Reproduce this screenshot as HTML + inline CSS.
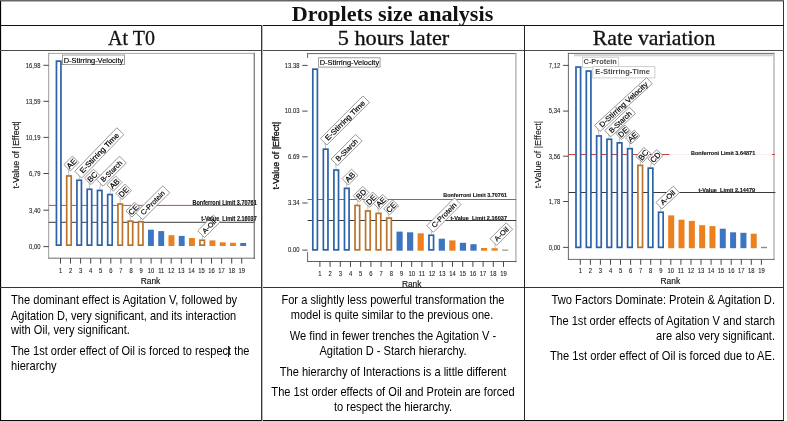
<!DOCTYPE html>
<html lang="en"><head><meta charset="utf-8"><title>Droplets size analysis</title>
<style>
html,body{margin:0;padding:0;background:#fff;}
body{width:787px;height:421px;position:relative;overflow:hidden;font-family:"Liberation Sans",sans-serif;}
.b{position:absolute;background:#111;}
.chart{position:absolute;overflow:hidden;}
.h{position:absolute;-webkit-text-stroke:0.3px #111;font-family:"Liberation Serif",serif;font-size:20.4px;line-height:24px;height:24px;text-align:center;color:#111;white-space:nowrap;}
.ln{position:absolute;font-size:13.33px;line-height:15px;height:15px;white-space:nowrap;color:#000;}
</style></head><body>

<div class="b" style="left:0;top:0;width:784px;height:1px;background:#666"></div>
<div class="b" style="left:1px;top:1px;width:783px;height:1px;background:#b4b4b4"></div>
<div class="b" style="left:0;top:1px;width:1px;height:420px;background:#000"></div>
<div class="b" style="left:1px;top:2px;width:1px;height:419px;background:#e4e4e4"></div>
<div class="b" style="left:783px;top:1px;width:1px;height:420px;background:#333"></div>
<div class="b" style="left:0;top:420px;width:784px;height:1px;background:#0a0a0a"></div>
<div class="b" style="left:0;top:24.7px;width:784px;height:1.2px"></div>
<div class="b" style="left:0;top:50px;width:784px;height:1px;background:#4a4a4a"></div>
<div class="b" style="left:0;top:286.6px;width:784px;height:1px;background:#333"></div>
<div class="b" style="left:261px;top:25px;width:1px;height:396px;background:#383838"></div>
<div class="b" style="left:262px;top:25px;width:1px;height:396px;background:#b8b8b8"></div>
<div class="b" style="left:523.9px;top:25px;width:1.1px;height:396px;background:#222"></div>
<div class="h" style="left:0;width:785px;top:2.2px;font-weight:bold;-webkit-text-stroke:0;transform:scaleX(1.087)">Droplets size analysis</div>
<div class="h" style="left:2px;width:259px;top:26.2px;transform:scaleX(0.98)">At T0</div>
<div class="h" style="left:263px;width:261px;top:26.2px;transform:scaleX(1.095)">5 hours later</div>
<div class="h" style="left:525px;width:258px;top:26.2px;transform:scaleX(1.066)">Rate variation</div>
<svg class="chart" style="left:2px;top:51px" width="259" height="236" viewBox="2 51 259 236" font-family="'Liberation Sans', sans-serif">
<line x1="48.7" y1="53.4" x2="254.3" y2="53.4" stroke="#9a9a9a" stroke-width="0.9" stroke-linecap="square"/>
<line x1="254.3" y1="53.4" x2="254.3" y2="258.2" stroke="#858585" stroke-width="1.4" stroke-linecap="square"/>
<line x1="48.7" y1="258.2" x2="254.3" y2="258.2" stroke="#5a5a5a" stroke-width="0.9" stroke-linecap="square"/>
<line x1="48.7" y1="53.4" x2="48.7" y2="258.2" stroke="#8e8e8e" stroke-width="0.9" stroke-linecap="square"/>
<line x1="43.4" y1="65.3" x2="48.7" y2="65.3" stroke="#333" stroke-width="0.9"/>
<text x="40.5" y="67.6" font-size="6.8" text-anchor="end" fill="#1c1c1c" stroke="#1c1c1c" stroke-width="0.1" textLength="14.63" lengthAdjust="spacingAndGlyphs">16,98</text>
<line x1="43.4" y1="101.3" x2="48.7" y2="101.3" stroke="#333" stroke-width="0.9"/>
<text x="40.5" y="103.6" font-size="6.8" text-anchor="end" fill="#1c1c1c" stroke="#1c1c1c" stroke-width="0.1" textLength="14.63" lengthAdjust="spacingAndGlyphs">13,59</text>
<line x1="43.4" y1="137.4" x2="48.7" y2="137.4" stroke="#333" stroke-width="0.9"/>
<text x="40.5" y="139.7" font-size="6.8" text-anchor="end" fill="#1c1c1c" stroke="#1c1c1c" stroke-width="0.1" textLength="14.63" lengthAdjust="spacingAndGlyphs">10,19</text>
<line x1="43.4" y1="173.5" x2="48.7" y2="173.5" stroke="#333" stroke-width="0.9"/>
<text x="40.5" y="175.8" font-size="6.8" text-anchor="end" fill="#1c1c1c" stroke="#1c1c1c" stroke-width="0.1" textLength="11.38" lengthAdjust="spacingAndGlyphs">6,79</text>
<line x1="43.4" y1="210.2" x2="48.7" y2="210.2" stroke="#333" stroke-width="0.9"/>
<text x="40.5" y="212.5" font-size="6.8" text-anchor="end" fill="#1c1c1c" stroke="#1c1c1c" stroke-width="0.1" textLength="11.38" lengthAdjust="spacingAndGlyphs">3,40</text>
<line x1="43.4" y1="246.6" x2="48.7" y2="246.6" stroke="#333" stroke-width="0.9"/>
<text x="40.5" y="248.9" font-size="6.8" text-anchor="end" fill="#1c1c1c" stroke="#1c1c1c" stroke-width="0.1" textLength="11.38" lengthAdjust="spacingAndGlyphs">0,00</text>
<line x1="60.5" y1="258.2" x2="60.5" y2="263.6" stroke="#333" stroke-width="0.9"/>
<text x="60.5" y="272.5" font-size="6.8" text-anchor="middle" fill="#1c1c1c" stroke="#1c1c1c" stroke-width="0.1" textLength="3.25" lengthAdjust="spacingAndGlyphs">1</text>
<line x1="70.5" y1="258.2" x2="70.5" y2="263.6" stroke="#333" stroke-width="0.9"/>
<text x="70.5" y="272.5" font-size="6.8" text-anchor="middle" fill="#1c1c1c" stroke="#1c1c1c" stroke-width="0.1" textLength="3.25" lengthAdjust="spacingAndGlyphs">2</text>
<line x1="80.6" y1="258.2" x2="80.6" y2="263.6" stroke="#333" stroke-width="0.9"/>
<text x="80.6" y="272.5" font-size="6.8" text-anchor="middle" fill="#1c1c1c" stroke="#1c1c1c" stroke-width="0.1" textLength="3.25" lengthAdjust="spacingAndGlyphs">3</text>
<line x1="90.7" y1="258.2" x2="90.7" y2="263.6" stroke="#333" stroke-width="0.9"/>
<text x="90.7" y="272.5" font-size="6.8" text-anchor="middle" fill="#1c1c1c" stroke="#1c1c1c" stroke-width="0.1" textLength="3.25" lengthAdjust="spacingAndGlyphs">4</text>
<line x1="100.7" y1="258.2" x2="100.7" y2="263.6" stroke="#333" stroke-width="0.9"/>
<text x="100.7" y="272.5" font-size="6.8" text-anchor="middle" fill="#1c1c1c" stroke="#1c1c1c" stroke-width="0.1" textLength="3.25" lengthAdjust="spacingAndGlyphs">5</text>
<line x1="110.8" y1="258.2" x2="110.8" y2="263.6" stroke="#333" stroke-width="0.9"/>
<text x="110.8" y="272.5" font-size="6.8" text-anchor="middle" fill="#1c1c1c" stroke="#1c1c1c" stroke-width="0.1" textLength="3.25" lengthAdjust="spacingAndGlyphs">6</text>
<line x1="120.9" y1="258.2" x2="120.9" y2="263.6" stroke="#333" stroke-width="0.9"/>
<text x="120.9" y="272.5" font-size="6.8" text-anchor="middle" fill="#1c1c1c" stroke="#1c1c1c" stroke-width="0.1" textLength="3.25" lengthAdjust="spacingAndGlyphs">7</text>
<line x1="131.0" y1="258.2" x2="131.0" y2="263.6" stroke="#333" stroke-width="0.9"/>
<text x="131.0" y="272.5" font-size="6.8" text-anchor="middle" fill="#1c1c1c" stroke="#1c1c1c" stroke-width="0.1" textLength="3.25" lengthAdjust="spacingAndGlyphs">8</text>
<line x1="141.0" y1="258.2" x2="141.0" y2="263.6" stroke="#333" stroke-width="0.9"/>
<text x="141.0" y="272.5" font-size="6.8" text-anchor="middle" fill="#1c1c1c" stroke="#1c1c1c" stroke-width="0.1" textLength="3.25" lengthAdjust="spacingAndGlyphs">9</text>
<line x1="151.1" y1="258.2" x2="151.1" y2="263.6" stroke="#333" stroke-width="0.9"/>
<text x="151.1" y="272.5" font-size="6.8" text-anchor="middle" fill="#1c1c1c" stroke="#1c1c1c" stroke-width="0.1" textLength="6.50" lengthAdjust="spacingAndGlyphs">10</text>
<line x1="161.2" y1="258.2" x2="161.2" y2="263.6" stroke="#333" stroke-width="0.9"/>
<text x="161.2" y="272.5" font-size="6.8" text-anchor="middle" fill="#1c1c1c" stroke="#1c1c1c" stroke-width="0.1" textLength="6.07" lengthAdjust="spacingAndGlyphs">11</text>
<line x1="171.2" y1="258.2" x2="171.2" y2="263.6" stroke="#333" stroke-width="0.9"/>
<text x="171.2" y="272.5" font-size="6.8" text-anchor="middle" fill="#1c1c1c" stroke="#1c1c1c" stroke-width="0.1" textLength="6.50" lengthAdjust="spacingAndGlyphs">12</text>
<line x1="181.3" y1="258.2" x2="181.3" y2="263.6" stroke="#333" stroke-width="0.9"/>
<text x="181.3" y="272.5" font-size="6.8" text-anchor="middle" fill="#1c1c1c" stroke="#1c1c1c" stroke-width="0.1" textLength="6.50" lengthAdjust="spacingAndGlyphs">13</text>
<line x1="191.4" y1="258.2" x2="191.4" y2="263.6" stroke="#333" stroke-width="0.9"/>
<text x="191.4" y="272.5" font-size="6.8" text-anchor="middle" fill="#1c1c1c" stroke="#1c1c1c" stroke-width="0.1" textLength="6.50" lengthAdjust="spacingAndGlyphs">14</text>
<line x1="201.4" y1="258.2" x2="201.4" y2="263.6" stroke="#333" stroke-width="0.9"/>
<text x="201.4" y="272.5" font-size="6.8" text-anchor="middle" fill="#1c1c1c" stroke="#1c1c1c" stroke-width="0.1" textLength="6.50" lengthAdjust="spacingAndGlyphs">15</text>
<line x1="211.5" y1="258.2" x2="211.5" y2="263.6" stroke="#333" stroke-width="0.9"/>
<text x="211.5" y="272.5" font-size="6.8" text-anchor="middle" fill="#1c1c1c" stroke="#1c1c1c" stroke-width="0.1" textLength="6.50" lengthAdjust="spacingAndGlyphs">16</text>
<line x1="221.6" y1="258.2" x2="221.6" y2="263.6" stroke="#333" stroke-width="0.9"/>
<text x="221.6" y="272.5" font-size="6.8" text-anchor="middle" fill="#1c1c1c" stroke="#1c1c1c" stroke-width="0.1" textLength="6.50" lengthAdjust="spacingAndGlyphs">17</text>
<line x1="231.7" y1="258.2" x2="231.7" y2="263.6" stroke="#333" stroke-width="0.9"/>
<text x="231.7" y="272.5" font-size="6.8" text-anchor="middle" fill="#1c1c1c" stroke="#1c1c1c" stroke-width="0.1" textLength="6.50" lengthAdjust="spacingAndGlyphs">18</text>
<line x1="241.7" y1="258.2" x2="241.7" y2="263.6" stroke="#333" stroke-width="0.9"/>
<text x="241.7" y="272.5" font-size="6.8" text-anchor="middle" fill="#1c1c1c" stroke="#1c1c1c" stroke-width="0.1" textLength="6.50" lengthAdjust="spacingAndGlyphs">19</text>
<text x="150.5" y="284.4" font-size="8.4" text-anchor="middle" fill="#111" stroke="#111" stroke-width="0.15">Rank</text>
<text transform="translate(16.6 154.8) rotate(-90)" x="0" y="2.8" font-size="8.2" text-anchor="middle" fill="#111" stroke="#111" stroke-width="0.15" textLength="67.5" lengthAdjust="spacingAndGlyphs">t-Value of |Effect|</text>
<line x1="48.7" y1="205.4" x2="254.3" y2="205.4" stroke="#d9443e" stroke-width="1.0"/>
<line x1="48.7" y1="222.3" x2="254.3" y2="222.3" stroke="#3a3a3a" stroke-width="1"/>
<rect x="56.45" y="61.15" width="4.50" height="184.00" fill="#fff" stroke="#2b62a8" stroke-width="1.7"/>
<rect x="66.70" y="175.95" width="4.50" height="69.20" fill="#fff" stroke="#b9732b" stroke-width="1.7"/>
<rect x="76.95" y="180.25" width="4.50" height="64.90" fill="#fff" stroke="#2b62a8" stroke-width="1.7"/>
<rect x="87.20" y="189.25" width="4.50" height="55.90" fill="#fff" stroke="#2b62a8" stroke-width="1.7"/>
<rect x="97.45" y="190.45" width="4.50" height="54.70" fill="#fff" stroke="#2b62a8" stroke-width="1.7"/>
<rect x="107.70" y="194.55" width="4.50" height="50.60" fill="#fff" stroke="#2b62a8" stroke-width="1.7"/>
<rect x="117.95" y="204.05" width="4.50" height="41.10" fill="#fff" stroke="#b9732b" stroke-width="1.7"/>
<rect x="128.20" y="221.15" width="4.50" height="24.00" fill="#fff" stroke="#b9732b" stroke-width="1.7"/>
<rect x="138.45" y="221.75" width="4.50" height="23.40" fill="#fff" stroke="#b9732b" stroke-width="1.7"/>
<rect x="148.00" y="229.70" width="5.90" height="16.30" fill="#3e75c1"/>
<rect x="158.25" y="231.10" width="5.90" height="14.90" fill="#3e75c1"/>
<rect x="168.50" y="235.20" width="5.90" height="10.80" fill="#ec7f1e"/>
<rect x="178.75" y="235.90" width="5.90" height="10.10" fill="#3e75c1"/>
<rect x="189.00" y="238.00" width="5.90" height="8.00" fill="#ec7f1e"/>
<rect x="199.95" y="240.25" width="4.50" height="4.90" fill="#fff" stroke="#b9732b" stroke-width="1.7"/>
<rect x="209.50" y="240.40" width="5.90" height="5.60" fill="#ec7f1e"/>
<rect x="219.75" y="242.30" width="5.90" height="3.70" fill="#ec7f1e"/>
<rect x="230.00" y="242.80" width="5.90" height="3.20" fill="#ec7f1e"/>
<rect x="240.25" y="243.00" width="5.90" height="3.00" fill="#3e75c1"/>
<line x1="68.8" y1="175.1" x2="68.3" y2="168.5" stroke="#9a9a9a" stroke-width="0.6"/>
<line x1="79.0" y1="179.4" x2="79.6" y2="175.5" stroke="#9a9a9a" stroke-width="0.6"/>
<line x1="89.5" y1="188.4" x2="89.2" y2="182.0" stroke="#9a9a9a" stroke-width="0.6"/>
<line x1="99.7" y1="189.6" x2="100.6" y2="183.5" stroke="#9a9a9a" stroke-width="0.6"/>
<line x1="109.9" y1="193.7" x2="111.2" y2="188.6" stroke="#9a9a9a" stroke-width="0.6"/>
<line x1="120.2" y1="203.2" x2="120.2" y2="197.0" stroke="#9a9a9a" stroke-width="0.6"/>
<line x1="130.4" y1="220.3" x2="130.0" y2="214.4" stroke="#9a9a9a" stroke-width="0.6"/>
<line x1="140.7" y1="220.9" x2="140.7" y2="217.0" stroke="#9a9a9a" stroke-width="0.6"/>
<line x1="202.2" y1="239.4" x2="202.6" y2="235.0" stroke="#9a9a9a" stroke-width="0.6"/>
<rect x="62.5" y="55.0" width="61.9" height="9.6" fill="#fff" stroke="#858585" stroke-width="0.8"/><text x="93.5" y="62.54" font-size="7.6" text-anchor="middle" textLength="59.5" lengthAdjust="spacingAndGlyphs" fill="#000" stroke="#000" stroke-width="0.15">D-Stirring-Velocity</text>
<g transform="translate(70.3 171.0) rotate(-45)"><rect x="0" y="-9.0" width="12.1" height="9.0" fill="#fff" stroke="#858585" stroke-width="0.8"/><text x="6.1" y="-1.69" font-size="7.8" text-anchor="middle" fill="#000" stroke="#000" stroke-width="0.18">AE</text></g>
<g transform="translate(81.7 178.1) rotate(-46)"><rect x="0" y="-9.7" width="60.6" height="9.7" fill="#fff" stroke="#858585" stroke-width="0.8"/><text x="30.3" y="-2.19" font-size="7.4" text-anchor="middle" textLength="53.0" lengthAdjust="spacingAndGlyphs" fill="#000" stroke="#000" stroke-width="0.18">E-Stirring Time</text></g>
<g transform="translate(91.0 184.6) rotate(-45)"><rect x="0" y="-9.2" width="12.7" height="9.2" fill="#fff" stroke="#858585" stroke-width="0.8"/><text x="6.4" y="-1.79" font-size="7.8" text-anchor="middle" fill="#000" stroke="#000" stroke-width="0.18">BC</text></g>
<g transform="translate(103.1 186.2) rotate(-45)"><rect x="0" y="-9.6" width="32.8" height="9.6" fill="#fff" stroke="#858585" stroke-width="0.8"/><text x="16.4" y="-2.21" font-size="7.2" text-anchor="middle" textLength="27.0" lengthAdjust="spacingAndGlyphs" fill="#000" stroke="#000" stroke-width="0.18">B-Starch</text></g>
<g transform="translate(113.3 191.2) rotate(-45)"><rect x="0" y="-9.0" width="12.4" height="9.0" fill="#fff" stroke="#858585" stroke-width="0.8"/><text x="6.2" y="-1.69" font-size="7.8" text-anchor="middle" fill="#000" stroke="#000" stroke-width="0.18">AB</text></g>
<g transform="translate(122.2 199.6) rotate(-45)"><rect x="0" y="-9.0" width="12.9" height="9.0" fill="#fff" stroke="#858585" stroke-width="0.8"/><text x="6.5" y="-1.69" font-size="7.8" text-anchor="middle" fill="#000" stroke="#000" stroke-width="0.18">DE</text></g>
<g transform="translate(132.0 217.0) rotate(-45)"><rect x="0" y="-8.6" width="12.3" height="8.6" fill="#fff" stroke="#858585" stroke-width="0.8"/><text x="6.2" y="-1.49" font-size="7.8" text-anchor="middle" fill="#000" stroke="#000" stroke-width="0.18">CE</text></g>
<g transform="translate(142.7 219.7) rotate(-45)"><rect x="0" y="-9.8" width="38.1" height="9.8" fill="#fff" stroke="#858585" stroke-width="0.8"/><text x="19.0" y="-2.31" font-size="7.2" text-anchor="middle" textLength="31.0" lengthAdjust="spacingAndGlyphs" fill="#000" stroke="#000" stroke-width="0.18">C-Protein</text></g>
<g transform="translate(204.5 237.6) rotate(-45)"><rect x="0" y="-9.6" width="22.2" height="9.6" fill="#fff" stroke="#858585" stroke-width="0.8"/><text x="11.1" y="-2.28" font-size="7.0" text-anchor="middle" textLength="16.5" lengthAdjust="spacingAndGlyphs" fill="#000" stroke="#000" stroke-width="0.18">A-Oil</text></g>
<text x="256.7" y="204.9" font-size="6.4" stroke="#111" stroke-width="0.12" font-weight="bold" text-anchor="end" fill="#111" textLength="64.2" lengthAdjust="spacingAndGlyphs" xml:space="preserve">Bonferroni Limit 3.70761</text>
<text x="256.7" y="221.0" font-size="6.4" stroke="#111" stroke-width="0.12" font-weight="bold" text-anchor="end" fill="#111" textLength="55.4" lengthAdjust="spacingAndGlyphs" xml:space="preserve">t-Value  Limit 2.16037</text>
</svg>
<svg class="chart" style="left:263px;top:51px" width="261" height="236" viewBox="263 51 261 236" font-family="'Liberation Sans', sans-serif">
<line x1="307.6" y1="53.6" x2="515.9" y2="53.6" stroke="#555" stroke-width="0.9" stroke-linecap="square"/>
<line x1="515.9" y1="53.6" x2="515.9" y2="261.5" stroke="#b4b4b4" stroke-width="1.4" stroke-linecap="square"/>
<line x1="307.6" y1="261.5" x2="515.9" y2="261.5" stroke="#4a4a4a" stroke-width="0.9" stroke-linecap="square"/>
<line x1="307.6" y1="53.6" x2="307.6" y2="58.0" stroke="#555" stroke-width="0.9"/>
<line x1="307.6" y1="252.0" x2="307.6" y2="261.5" stroke="#555" stroke-width="0.9"/>
<line x1="302.3" y1="65.4" x2="307.6" y2="65.4" stroke="#333" stroke-width="0.9"/>
<text x="299.4" y="67.7" font-size="6.8" text-anchor="end" fill="#1c1c1c" stroke="#1c1c1c" stroke-width="0.1" textLength="14.63" lengthAdjust="spacingAndGlyphs">13.38</text>
<line x1="302.3" y1="111.1" x2="307.6" y2="111.1" stroke="#333" stroke-width="0.9"/>
<text x="299.4" y="113.4" font-size="6.8" text-anchor="end" fill="#1c1c1c" stroke="#1c1c1c" stroke-width="0.1" textLength="14.63" lengthAdjust="spacingAndGlyphs">10.03</text>
<line x1="302.3" y1="156.8" x2="307.6" y2="156.8" stroke="#333" stroke-width="0.9"/>
<text x="299.4" y="159.1" font-size="6.8" text-anchor="end" fill="#1c1c1c" stroke="#1c1c1c" stroke-width="0.1" textLength="11.38" lengthAdjust="spacingAndGlyphs">6.69</text>
<line x1="302.3" y1="203.0" x2="307.6" y2="203.0" stroke="#333" stroke-width="0.9"/>
<text x="299.4" y="205.3" font-size="6.8" text-anchor="end" fill="#1c1c1c" stroke="#1c1c1c" stroke-width="0.1" textLength="11.38" lengthAdjust="spacingAndGlyphs">3.34</text>
<line x1="302.3" y1="250.1" x2="307.6" y2="250.1" stroke="#333" stroke-width="0.9"/>
<text x="299.4" y="252.4" font-size="6.8" text-anchor="end" fill="#1c1c1c" stroke="#1c1c1c" stroke-width="0.1" textLength="11.38" lengthAdjust="spacingAndGlyphs">0.00</text>
<line x1="319.9" y1="261.5" x2="319.9" y2="266.9" stroke="#333" stroke-width="0.9"/>
<text x="319.9" y="275.7" font-size="6.8" text-anchor="middle" fill="#1c1c1c" stroke="#1c1c1c" stroke-width="0.1" textLength="3.25" lengthAdjust="spacingAndGlyphs">1</text>
<line x1="330.1" y1="261.5" x2="330.1" y2="266.9" stroke="#333" stroke-width="0.9"/>
<text x="330.1" y="275.7" font-size="6.8" text-anchor="middle" fill="#1c1c1c" stroke="#1c1c1c" stroke-width="0.1" textLength="3.25" lengthAdjust="spacingAndGlyphs">2</text>
<line x1="340.3" y1="261.5" x2="340.3" y2="266.9" stroke="#333" stroke-width="0.9"/>
<text x="340.3" y="275.7" font-size="6.8" text-anchor="middle" fill="#1c1c1c" stroke="#1c1c1c" stroke-width="0.1" textLength="3.25" lengthAdjust="spacingAndGlyphs">3</text>
<line x1="350.5" y1="261.5" x2="350.5" y2="266.9" stroke="#333" stroke-width="0.9"/>
<text x="350.5" y="275.7" font-size="6.8" text-anchor="middle" fill="#1c1c1c" stroke="#1c1c1c" stroke-width="0.1" textLength="3.25" lengthAdjust="spacingAndGlyphs">4</text>
<line x1="360.7" y1="261.5" x2="360.7" y2="266.9" stroke="#333" stroke-width="0.9"/>
<text x="360.7" y="275.7" font-size="6.8" text-anchor="middle" fill="#1c1c1c" stroke="#1c1c1c" stroke-width="0.1" textLength="3.25" lengthAdjust="spacingAndGlyphs">5</text>
<line x1="370.9" y1="261.5" x2="370.9" y2="266.9" stroke="#333" stroke-width="0.9"/>
<text x="370.9" y="275.7" font-size="6.8" text-anchor="middle" fill="#1c1c1c" stroke="#1c1c1c" stroke-width="0.1" textLength="3.25" lengthAdjust="spacingAndGlyphs">6</text>
<line x1="381.1" y1="261.5" x2="381.1" y2="266.9" stroke="#333" stroke-width="0.9"/>
<text x="381.1" y="275.7" font-size="6.8" text-anchor="middle" fill="#1c1c1c" stroke="#1c1c1c" stroke-width="0.1" textLength="3.25" lengthAdjust="spacingAndGlyphs">7</text>
<line x1="391.3" y1="261.5" x2="391.3" y2="266.9" stroke="#333" stroke-width="0.9"/>
<text x="391.3" y="275.7" font-size="6.8" text-anchor="middle" fill="#1c1c1c" stroke="#1c1c1c" stroke-width="0.1" textLength="3.25" lengthAdjust="spacingAndGlyphs">8</text>
<line x1="401.5" y1="261.5" x2="401.5" y2="266.9" stroke="#333" stroke-width="0.9"/>
<text x="401.5" y="275.7" font-size="6.8" text-anchor="middle" fill="#1c1c1c" stroke="#1c1c1c" stroke-width="0.1" textLength="3.25" lengthAdjust="spacingAndGlyphs">9</text>
<line x1="411.7" y1="261.5" x2="411.7" y2="266.9" stroke="#333" stroke-width="0.9"/>
<text x="411.7" y="275.7" font-size="6.8" text-anchor="middle" fill="#1c1c1c" stroke="#1c1c1c" stroke-width="0.1" textLength="6.50" lengthAdjust="spacingAndGlyphs">10</text>
<line x1="421.9" y1="261.5" x2="421.9" y2="266.9" stroke="#333" stroke-width="0.9"/>
<text x="421.9" y="275.7" font-size="6.8" text-anchor="middle" fill="#1c1c1c" stroke="#1c1c1c" stroke-width="0.1" textLength="6.07" lengthAdjust="spacingAndGlyphs">11</text>
<line x1="432.1" y1="261.5" x2="432.1" y2="266.9" stroke="#333" stroke-width="0.9"/>
<text x="432.1" y="275.7" font-size="6.8" text-anchor="middle" fill="#1c1c1c" stroke="#1c1c1c" stroke-width="0.1" textLength="6.50" lengthAdjust="spacingAndGlyphs">12</text>
<line x1="442.3" y1="261.5" x2="442.3" y2="266.9" stroke="#333" stroke-width="0.9"/>
<text x="442.3" y="275.7" font-size="6.8" text-anchor="middle" fill="#1c1c1c" stroke="#1c1c1c" stroke-width="0.1" textLength="6.50" lengthAdjust="spacingAndGlyphs">13</text>
<line x1="452.5" y1="261.5" x2="452.5" y2="266.9" stroke="#333" stroke-width="0.9"/>
<text x="452.5" y="275.7" font-size="6.8" text-anchor="middle" fill="#1c1c1c" stroke="#1c1c1c" stroke-width="0.1" textLength="6.50" lengthAdjust="spacingAndGlyphs">14</text>
<line x1="462.7" y1="261.5" x2="462.7" y2="266.9" stroke="#333" stroke-width="0.9"/>
<text x="462.7" y="275.7" font-size="6.8" text-anchor="middle" fill="#1c1c1c" stroke="#1c1c1c" stroke-width="0.1" textLength="6.50" lengthAdjust="spacingAndGlyphs">15</text>
<line x1="472.9" y1="261.5" x2="472.9" y2="266.9" stroke="#333" stroke-width="0.9"/>
<text x="472.9" y="275.7" font-size="6.8" text-anchor="middle" fill="#1c1c1c" stroke="#1c1c1c" stroke-width="0.1" textLength="6.50" lengthAdjust="spacingAndGlyphs">16</text>
<line x1="483.1" y1="261.5" x2="483.1" y2="266.9" stroke="#333" stroke-width="0.9"/>
<text x="483.1" y="275.7" font-size="6.8" text-anchor="middle" fill="#1c1c1c" stroke="#1c1c1c" stroke-width="0.1" textLength="6.50" lengthAdjust="spacingAndGlyphs">17</text>
<line x1="493.3" y1="261.5" x2="493.3" y2="266.9" stroke="#333" stroke-width="0.9"/>
<text x="493.3" y="275.7" font-size="6.8" text-anchor="middle" fill="#1c1c1c" stroke="#1c1c1c" stroke-width="0.1" textLength="6.50" lengthAdjust="spacingAndGlyphs">18</text>
<line x1="503.5" y1="261.5" x2="503.5" y2="266.9" stroke="#333" stroke-width="0.9"/>
<text x="503.5" y="275.7" font-size="6.8" text-anchor="middle" fill="#1c1c1c" stroke="#1c1c1c" stroke-width="0.1" textLength="6.50" lengthAdjust="spacingAndGlyphs">19</text>
<text x="411.7" y="286.5" font-size="8.4" text-anchor="middle" fill="#111" stroke="#111" stroke-width="0.15">Rank</text>
<text transform="translate(276.0 155.7) rotate(-90)" x="0" y="2.8" font-size="8.2" text-anchor="middle" fill="#111" stroke="#111" stroke-width="0.3" textLength="67.5" lengthAdjust="spacingAndGlyphs">t-Value of |Effect|</text>
<line x1="307.6" y1="199.5" x2="516.1" y2="199.5" stroke="#d9443e" stroke-width="1.0"/>
<line x1="307.6" y1="220.5" x2="516.1" y2="220.5" stroke="#3a3a3a" stroke-width="1"/>
<rect x="312.80" y="69.15" width="4.60" height="180.70" fill="#fff" stroke="#2b62a8" stroke-width="1.7"/>
<rect x="323.36" y="149.15" width="4.60" height="100.70" fill="#fff" stroke="#2b62a8" stroke-width="1.7"/>
<rect x="333.92" y="170.05" width="4.60" height="79.80" fill="#fff" stroke="#2b62a8" stroke-width="1.7"/>
<rect x="344.48" y="188.35" width="4.60" height="61.50" fill="#fff" stroke="#2b62a8" stroke-width="1.7"/>
<rect x="355.04" y="205.45" width="4.60" height="44.40" fill="#fff" stroke="#b9732b" stroke-width="1.7"/>
<rect x="365.60" y="210.95" width="4.60" height="38.90" fill="#fff" stroke="#b9732b" stroke-width="1.7"/>
<rect x="376.16" y="213.35" width="4.60" height="36.50" fill="#fff" stroke="#b9732b" stroke-width="1.7"/>
<rect x="386.72" y="218.05" width="4.60" height="31.80" fill="#fff" stroke="#b9732b" stroke-width="1.7"/>
<rect x="396.48" y="231.60" width="6.20" height="19.10" fill="#3e75c1"/>
<rect x="407.04" y="232.30" width="6.20" height="18.40" fill="#3e75c1"/>
<rect x="417.60" y="233.30" width="6.20" height="17.40" fill="#ec7f1e"/>
<rect x="428.96" y="235.25" width="4.60" height="14.60" fill="#fff" stroke="#2b62a8" stroke-width="1.7"/>
<rect x="438.72" y="238.70" width="6.20" height="12.00" fill="#3e75c1"/>
<rect x="449.28" y="240.40" width="6.20" height="10.30" fill="#ec7f1e"/>
<rect x="459.84" y="242.80" width="6.20" height="7.90" fill="#3e75c1"/>
<rect x="470.40" y="244.20" width="6.20" height="6.50" fill="#3e75c1"/>
<rect x="480.96" y="248.00" width="6.20" height="2.70" fill="#ec7f1e"/>
<rect x="491.52" y="248.20" width="6.20" height="2.50" fill="#ec7f1e"/>
<rect x="502.08" y="249.60" width="6.20" height="1.10" fill="#8a8a8a"/>
<line x1="325.7" y1="148.3" x2="325.0" y2="142.8" stroke="#9a9a9a" stroke-width="0.6"/>
<line x1="336.2" y1="169.2" x2="335.6" y2="163.2" stroke="#9a9a9a" stroke-width="0.6"/>
<line x1="346.8" y1="187.5" x2="346.4" y2="182.6" stroke="#9a9a9a" stroke-width="0.6"/>
<line x1="357.4" y1="204.6" x2="357.4" y2="199.5" stroke="#9a9a9a" stroke-width="0.6"/>
<line x1="367.9" y1="210.1" x2="367.7" y2="205.0" stroke="#9a9a9a" stroke-width="0.6"/>
<line x1="378.5" y1="212.5" x2="377.8" y2="207.2" stroke="#9a9a9a" stroke-width="0.6"/>
<line x1="389.0" y1="217.2" x2="388.0" y2="212.5" stroke="#9a9a9a" stroke-width="0.6"/>
<line x1="431.3" y1="234.4" x2="431.5" y2="230.0" stroke="#9a9a9a" stroke-width="0.6"/>
<line x1="495.2" y1="248.2" x2="494.8" y2="243.0" stroke="#9a9a9a" stroke-width="0.6"/>
<rect x="318.6" y="57.8" width="61.5" height="9.3" fill="#fff" stroke="#858585" stroke-width="0.8"/><text x="349.4" y="65.19" font-size="7.6" text-anchor="middle" textLength="59.5" lengthAdjust="spacingAndGlyphs" fill="#000" stroke="#000" stroke-width="0.15">D-Stirring-Velocity</text>
<g transform="translate(326.9 145.0) rotate(-45)"><rect x="0" y="-9.2" width="60.2" height="9.2" fill="#fff" stroke="#858585" stroke-width="0.8"/><text x="30.1" y="-1.94" font-size="7.4" text-anchor="middle" textLength="53.0" lengthAdjust="spacingAndGlyphs" fill="#000" stroke="#000" stroke-width="0.18">E-Stirring Time</text></g>
<g transform="translate(337.6 165.5) rotate(-45)"><rect x="0" y="-9.2" width="34.7" height="9.2" fill="#fff" stroke="#858585" stroke-width="0.8"/><text x="17.4" y="-2.01" font-size="7.2" text-anchor="middle" textLength="28.0" lengthAdjust="spacingAndGlyphs" fill="#000" stroke="#000" stroke-width="0.18">B-Starch</text></g>
<g transform="translate(348.4 185.0) rotate(-45)"><rect x="0" y="-9.0" width="13.4" height="9.0" fill="#fff" stroke="#858585" stroke-width="0.8"/><text x="6.7" y="-1.69" font-size="7.8" text-anchor="middle" fill="#000" stroke="#000" stroke-width="0.18">AB</text></g>
<g transform="translate(359.4 201.9) rotate(-45)"><rect x="0" y="-8.6" width="13.4" height="8.6" fill="#fff" stroke="#858585" stroke-width="0.8"/><text x="6.7" y="-1.49" font-size="7.8" text-anchor="middle" fill="#000" stroke="#000" stroke-width="0.18">BD</text></g>
<g transform="translate(369.6 207.3) rotate(-45)"><rect x="0" y="-8.6" width="13.0" height="8.6" fill="#fff" stroke="#858585" stroke-width="0.8"/><text x="6.5" y="-1.49" font-size="7.8" text-anchor="middle" fill="#000" stroke="#000" stroke-width="0.18">DE</text></g>
<g transform="translate(379.5 209.4) rotate(-45)"><rect x="0" y="-8.4" width="12.8" height="8.4" fill="#fff" stroke="#858585" stroke-width="0.8"/><text x="6.4" y="-1.39" font-size="7.8" text-anchor="middle" fill="#000" stroke="#000" stroke-width="0.18">AE</text></g>
<g transform="translate(389.7 214.8) rotate(-45)"><rect x="0" y="-8.4" width="12.6" height="8.4" fill="#fff" stroke="#858585" stroke-width="0.8"/><text x="6.3" y="-1.39" font-size="7.8" text-anchor="middle" fill="#000" stroke="#000" stroke-width="0.18">CE</text></g>
<g transform="translate(433.4 232.3) rotate(-45)"><rect x="0" y="-9.4" width="39.2" height="9.4" fill="#fff" stroke="#858585" stroke-width="0.8"/><text x="19.6" y="-2.11" font-size="7.2" text-anchor="middle" textLength="32.0" lengthAdjust="spacingAndGlyphs" fill="#000" stroke="#000" stroke-width="0.18">C-Protein</text></g>
<g transform="translate(496.6 245.3) rotate(-45)"><rect x="0" y="-9.2" width="22.7" height="9.2" fill="#fff" stroke="#858585" stroke-width="0.8"/><text x="11.3" y="-2.08" font-size="7.0" text-anchor="middle" textLength="17.0" lengthAdjust="spacingAndGlyphs" fill="#000" stroke="#000" stroke-width="0.18">A-Oil</text></g>
<text x="507.0" y="197.2" font-size="5.8" stroke="#111" stroke-width="0.12" font-weight="bold" text-anchor="end" fill="#111" textLength="63.8" lengthAdjust="spacingAndGlyphs" xml:space="preserve">Bonferroni Limit 3.70761</text>
<text x="507.0" y="219.9" font-size="5.8" stroke="#111" stroke-width="0.12" font-weight="bold" text-anchor="end" fill="#111" textLength="56.5" lengthAdjust="spacingAndGlyphs" xml:space="preserve">t-Value  Limit 2.16037</text>
</svg>
<svg class="chart" style="left:525px;top:51px" width="258" height="236" viewBox="525 51 258 236" font-family="'Liberation Sans', sans-serif">
<line x1="568.4" y1="53.4" x2="774.0" y2="53.4" stroke="#5a5a5a" stroke-width="0.9" stroke-linecap="square"/>
<line x1="774.0" y1="53.4" x2="774.0" y2="259.4" stroke="#8a8a8a" stroke-width="0.9" stroke-linecap="square"/>
<line x1="568.4" y1="259.4" x2="774.0" y2="259.4" stroke="#5a5a5a" stroke-width="0.9" stroke-linecap="square"/>
<line x1="568.4" y1="53.4" x2="568.4" y2="259.4" stroke="#5a5a5a" stroke-width="0.9" stroke-linecap="square"/>
<line x1="563.1" y1="65.4" x2="568.4" y2="65.4" stroke="#333" stroke-width="0.9"/>
<text x="560.2" y="67.7" font-size="6.8" text-anchor="end" fill="#1c1c1c" stroke="#1c1c1c" stroke-width="0.1" textLength="11.38" lengthAdjust="spacingAndGlyphs">7,12</text>
<line x1="563.1" y1="111.1" x2="568.4" y2="111.1" stroke="#333" stroke-width="0.9"/>
<text x="560.2" y="113.4" font-size="6.8" text-anchor="end" fill="#1c1c1c" stroke="#1c1c1c" stroke-width="0.1" textLength="11.38" lengthAdjust="spacingAndGlyphs">5,34</text>
<line x1="563.1" y1="156.2" x2="568.4" y2="156.2" stroke="#333" stroke-width="0.9"/>
<text x="560.2" y="158.5" font-size="6.8" text-anchor="end" fill="#1c1c1c" stroke="#1c1c1c" stroke-width="0.1" textLength="11.38" lengthAdjust="spacingAndGlyphs">3,56</text>
<line x1="563.1" y1="201.5" x2="568.4" y2="201.5" stroke="#333" stroke-width="0.9"/>
<text x="560.2" y="203.8" font-size="6.8" text-anchor="end" fill="#1c1c1c" stroke="#1c1c1c" stroke-width="0.1" textLength="11.38" lengthAdjust="spacingAndGlyphs">1,78</text>
<line x1="563.1" y1="247.4" x2="568.4" y2="247.4" stroke="#333" stroke-width="0.9"/>
<text x="560.2" y="249.7" font-size="6.8" text-anchor="end" fill="#1c1c1c" stroke="#1c1c1c" stroke-width="0.1" textLength="11.38" lengthAdjust="spacingAndGlyphs">0,00</text>
<line x1="580.3" y1="259.4" x2="580.3" y2="264.8" stroke="#333" stroke-width="0.9"/>
<text x="580.3" y="272.9" font-size="6.8" text-anchor="middle" fill="#1c1c1c" stroke="#1c1c1c" stroke-width="0.1" textLength="3.25" lengthAdjust="spacingAndGlyphs">1</text>
<line x1="590.4" y1="259.4" x2="590.4" y2="264.8" stroke="#333" stroke-width="0.9"/>
<text x="590.4" y="272.9" font-size="6.8" text-anchor="middle" fill="#1c1c1c" stroke="#1c1c1c" stroke-width="0.1" textLength="3.25" lengthAdjust="spacingAndGlyphs">2</text>
<line x1="600.4" y1="259.4" x2="600.4" y2="264.8" stroke="#333" stroke-width="0.9"/>
<text x="600.4" y="272.9" font-size="6.8" text-anchor="middle" fill="#1c1c1c" stroke="#1c1c1c" stroke-width="0.1" textLength="3.25" lengthAdjust="spacingAndGlyphs">3</text>
<line x1="610.5" y1="259.4" x2="610.5" y2="264.8" stroke="#333" stroke-width="0.9"/>
<text x="610.5" y="272.9" font-size="6.8" text-anchor="middle" fill="#1c1c1c" stroke="#1c1c1c" stroke-width="0.1" textLength="3.25" lengthAdjust="spacingAndGlyphs">4</text>
<line x1="620.5" y1="259.4" x2="620.5" y2="264.8" stroke="#333" stroke-width="0.9"/>
<text x="620.5" y="272.9" font-size="6.8" text-anchor="middle" fill="#1c1c1c" stroke="#1c1c1c" stroke-width="0.1" textLength="3.25" lengthAdjust="spacingAndGlyphs">5</text>
<line x1="630.6" y1="259.4" x2="630.6" y2="264.8" stroke="#333" stroke-width="0.9"/>
<text x="630.6" y="272.9" font-size="6.8" text-anchor="middle" fill="#1c1c1c" stroke="#1c1c1c" stroke-width="0.1" textLength="3.25" lengthAdjust="spacingAndGlyphs">6</text>
<line x1="640.7" y1="259.4" x2="640.7" y2="264.8" stroke="#333" stroke-width="0.9"/>
<text x="640.7" y="272.9" font-size="6.8" text-anchor="middle" fill="#1c1c1c" stroke="#1c1c1c" stroke-width="0.1" textLength="3.25" lengthAdjust="spacingAndGlyphs">7</text>
<line x1="650.7" y1="259.4" x2="650.7" y2="264.8" stroke="#333" stroke-width="0.9"/>
<text x="650.7" y="272.9" font-size="6.8" text-anchor="middle" fill="#1c1c1c" stroke="#1c1c1c" stroke-width="0.1" textLength="3.25" lengthAdjust="spacingAndGlyphs">8</text>
<line x1="660.8" y1="259.4" x2="660.8" y2="264.8" stroke="#333" stroke-width="0.9"/>
<text x="660.8" y="272.9" font-size="6.8" text-anchor="middle" fill="#1c1c1c" stroke="#1c1c1c" stroke-width="0.1" textLength="3.25" lengthAdjust="spacingAndGlyphs">9</text>
<line x1="670.8" y1="259.4" x2="670.8" y2="264.8" stroke="#333" stroke-width="0.9"/>
<text x="670.8" y="272.9" font-size="6.8" text-anchor="middle" fill="#1c1c1c" stroke="#1c1c1c" stroke-width="0.1" textLength="6.50" lengthAdjust="spacingAndGlyphs">10</text>
<line x1="680.9" y1="259.4" x2="680.9" y2="264.8" stroke="#333" stroke-width="0.9"/>
<text x="680.9" y="272.9" font-size="6.8" text-anchor="middle" fill="#1c1c1c" stroke="#1c1c1c" stroke-width="0.1" textLength="6.07" lengthAdjust="spacingAndGlyphs">11</text>
<line x1="691.0" y1="259.4" x2="691.0" y2="264.8" stroke="#333" stroke-width="0.9"/>
<text x="691.0" y="272.9" font-size="6.8" text-anchor="middle" fill="#1c1c1c" stroke="#1c1c1c" stroke-width="0.1" textLength="6.50" lengthAdjust="spacingAndGlyphs">12</text>
<line x1="701.0" y1="259.4" x2="701.0" y2="264.8" stroke="#333" stroke-width="0.9"/>
<text x="701.0" y="272.9" font-size="6.8" text-anchor="middle" fill="#1c1c1c" stroke="#1c1c1c" stroke-width="0.1" textLength="6.50" lengthAdjust="spacingAndGlyphs">13</text>
<line x1="711.1" y1="259.4" x2="711.1" y2="264.8" stroke="#333" stroke-width="0.9"/>
<text x="711.1" y="272.9" font-size="6.8" text-anchor="middle" fill="#1c1c1c" stroke="#1c1c1c" stroke-width="0.1" textLength="6.50" lengthAdjust="spacingAndGlyphs">14</text>
<line x1="721.1" y1="259.4" x2="721.1" y2="264.8" stroke="#333" stroke-width="0.9"/>
<text x="721.1" y="272.9" font-size="6.8" text-anchor="middle" fill="#1c1c1c" stroke="#1c1c1c" stroke-width="0.1" textLength="6.50" lengthAdjust="spacingAndGlyphs">15</text>
<line x1="731.2" y1="259.4" x2="731.2" y2="264.8" stroke="#333" stroke-width="0.9"/>
<text x="731.2" y="272.9" font-size="6.8" text-anchor="middle" fill="#1c1c1c" stroke="#1c1c1c" stroke-width="0.1" textLength="6.50" lengthAdjust="spacingAndGlyphs">16</text>
<line x1="741.3" y1="259.4" x2="741.3" y2="264.8" stroke="#333" stroke-width="0.9"/>
<text x="741.3" y="272.9" font-size="6.8" text-anchor="middle" fill="#1c1c1c" stroke="#1c1c1c" stroke-width="0.1" textLength="6.50" lengthAdjust="spacingAndGlyphs">17</text>
<line x1="751.3" y1="259.4" x2="751.3" y2="264.8" stroke="#333" stroke-width="0.9"/>
<text x="751.3" y="272.9" font-size="6.8" text-anchor="middle" fill="#1c1c1c" stroke="#1c1c1c" stroke-width="0.1" textLength="6.50" lengthAdjust="spacingAndGlyphs">18</text>
<line x1="761.4" y1="259.4" x2="761.4" y2="264.8" stroke="#333" stroke-width="0.9"/>
<text x="761.4" y="272.9" font-size="6.8" text-anchor="middle" fill="#1c1c1c" stroke="#1c1c1c" stroke-width="0.1" textLength="6.50" lengthAdjust="spacingAndGlyphs">19</text>
<text x="670.3" y="283.9" font-size="8.4" text-anchor="middle" fill="#111" stroke="#111" stroke-width="0.15">Rank</text>
<text transform="translate(538.0 154.6) rotate(-90)" x="0" y="2.8" font-size="8.2" text-anchor="middle" fill="#111" stroke="#111" stroke-width="0.08" textLength="67.5" lengthAdjust="spacingAndGlyphs">t-Value of |Effect|</text>
<line x1="568.4" y1="154.5" x2="669.6" y2="154.5" stroke="#cf3f3a" stroke-width="1.0"/>
<line x1="669.6" y1="154.5" x2="772.0" y2="154.5" stroke="#fbeeee" stroke-width="1.0"/>
<line x1="772.0" y1="154.5" x2="775.0" y2="154.5" stroke="#cf3f3a" stroke-width="1.0"/>
<line x1="568.4" y1="192.5" x2="775.4" y2="192.5" stroke="#3a3a3a" stroke-width="1"/>
<rect x="576.00" y="67.05" width="4.60" height="180.30" fill="#fff" stroke="#2b62a8" stroke-width="1.7"/>
<rect x="586.32" y="71.05" width="4.60" height="176.30" fill="#fff" stroke="#2b62a8" stroke-width="1.7"/>
<rect x="596.64" y="135.95" width="4.60" height="111.40" fill="#fff" stroke="#2b62a8" stroke-width="1.7"/>
<rect x="606.96" y="139.25" width="4.60" height="108.10" fill="#fff" stroke="#2b62a8" stroke-width="1.7"/>
<rect x="617.28" y="142.85" width="4.60" height="104.50" fill="#fff" stroke="#2b62a8" stroke-width="1.7"/>
<rect x="627.60" y="148.65" width="4.60" height="98.70" fill="#fff" stroke="#2b62a8" stroke-width="1.7"/>
<rect x="637.92" y="165.35" width="4.60" height="82.00" fill="#fff" stroke="#b9732b" stroke-width="1.7"/>
<rect x="648.24" y="168.15" width="4.60" height="79.20" fill="#fff" stroke="#2b62a8" stroke-width="1.7"/>
<rect x="658.56" y="212.25" width="4.60" height="35.10" fill="#fff" stroke="#2b62a8" stroke-width="1.7"/>
<rect x="668.18" y="215.40" width="6.00" height="32.80" fill="#ec7f1e"/>
<rect x="678.50" y="219.70" width="6.00" height="28.50" fill="#ec7f1e"/>
<rect x="688.82" y="220.90" width="6.00" height="27.30" fill="#ec7f1e"/>
<rect x="699.14" y="225.20" width="6.00" height="23.00" fill="#ec7f1e"/>
<rect x="709.46" y="226.10" width="6.00" height="22.10" fill="#ec7f1e"/>
<rect x="719.78" y="228.70" width="6.00" height="19.50" fill="#3e75c1"/>
<rect x="730.10" y="232.30" width="6.00" height="15.90" fill="#3e75c1"/>
<rect x="740.42" y="232.80" width="6.00" height="15.40" fill="#3e75c1"/>
<rect x="750.74" y="233.70" width="6.00" height="14.50" fill="#ec7f1e"/>
<rect x="761.06" y="246.80" width="6.00" height="1.40" fill="#8a8a8a"/>
<rect x="574" y="54.2" width="199.7" height="2.1" fill="#d2d2d2"/>
<line x1="599.0" y1="135.1" x2="598.0" y2="128.5" stroke="#9a9a9a" stroke-width="0.6"/>
<line x1="609.3" y1="138.4" x2="608.5" y2="133.5" stroke="#9a9a9a" stroke-width="0.6"/>
<line x1="619.6" y1="142.0" x2="619.5" y2="136.5" stroke="#9a9a9a" stroke-width="0.6"/>
<line x1="630.0" y1="147.8" x2="629.0" y2="141.0" stroke="#9a9a9a" stroke-width="0.6"/>
<line x1="640.3" y1="164.5" x2="640.5" y2="159.5" stroke="#9a9a9a" stroke-width="0.6"/>
<line x1="650.6" y1="167.3" x2="651.5" y2="162.0" stroke="#9a9a9a" stroke-width="0.6"/>
<line x1="660.9" y1="211.4" x2="660.0" y2="206.0" stroke="#9a9a9a" stroke-width="0.6"/>
<rect x="582.6" y="57.2" width="36.1" height="10.2" fill="#fff" stroke="#c4c4c4" stroke-width="0.8"/><text x="600.2" y="63.93" font-size="7.3" text-anchor="middle" font-weight="bold" textLength="33.3" lengthAdjust="spacingAndGlyphs" fill="#4c4c4c" stroke="#4c4c4c" stroke-width="0">C-Protein</text>
<rect x="592.8" y="66.6" width="62.1" height="11.3" fill="#fff" stroke="#c4c4c4" stroke-width="0.8"/><text x="622.6" y="74.23" font-size="7.3" text-anchor="middle" font-weight="bold" textLength="54.5" lengthAdjust="spacingAndGlyphs" fill="#4c4c4c" stroke="#4c4c4c" stroke-width="0">E-Stirring-Time</text>
<g transform="translate(600.1 131.5) rotate(-42.5)"><rect x="0" y="-8.3" width="70.7" height="8.3" fill="#fff" stroke="#858585" stroke-width="0.8"/><text x="35.4" y="-1.56" font-size="7.2" text-anchor="middle" textLength="63.0" lengthAdjust="spacingAndGlyphs" fill="#000" stroke="#000" stroke-width="0.18">D-Stirring Velocity</text></g>
<g transform="translate(610.8 136.8) rotate(-43.5)"><rect x="0" y="-8.7" width="33.9" height="8.7" fill="#fff" stroke="#858585" stroke-width="0.8"/><text x="17.0" y="-1.76" font-size="7.2" text-anchor="middle" textLength="28.0" lengthAdjust="spacingAndGlyphs" fill="#000" stroke="#000" stroke-width="0.18">B-Starch</text></g>
<g transform="translate(621.5 139.5) rotate(-42)"><rect x="0" y="-8.3" width="12.2" height="8.3" fill="#fff" stroke="#858585" stroke-width="0.8"/><text x="6.1" y="-1.34" font-size="7.8" text-anchor="middle" fill="#000" stroke="#000" stroke-width="0.18">DE</text></g>
<g transform="translate(631.0 144.0) rotate(-42)"><rect x="0" y="-8.1" width="11.8" height="8.1" fill="#fff" stroke="#858585" stroke-width="0.8"/><text x="5.9" y="-1.24" font-size="7.8" text-anchor="middle" fill="#000" stroke="#000" stroke-width="0.18">AE</text></g>
<g transform="translate(642.8 162.5) rotate(-50)"><rect x="0" y="-8.9" width="12.1" height="8.9" fill="#fff" stroke="#858585" stroke-width="0.8"/><text x="6.0" y="-1.64" font-size="7.8" text-anchor="middle" fill="#000" stroke="#000" stroke-width="0.18">BC</text></g>
<g transform="translate(654.2 164.9) rotate(-47)"><rect x="0" y="-8.7" width="12.8" height="8.7" fill="#fff" stroke="#858585" stroke-width="0.8"/><text x="6.4" y="-1.54" font-size="7.8" text-anchor="middle" fill="#000" stroke="#000" stroke-width="0.18">CD</text></g>
<g transform="translate(662.0 208.9) rotate(-43)"><rect x="0" y="-8.9" width="23.8" height="8.9" fill="#fff" stroke="#858585" stroke-width="0.8"/><text x="11.9" y="-1.93" font-size="7.0" text-anchor="middle" textLength="17.5" lengthAdjust="spacingAndGlyphs" fill="#000" stroke="#000" stroke-width="0.18">A-Oil</text></g>
<text x="755.2" y="154.8" font-size="5.8" stroke="#111" stroke-width="0.12" font-weight="bold" text-anchor="end" fill="#111" textLength="64.2" lengthAdjust="spacingAndGlyphs" xml:space="preserve">Bonferroni Limit 3.64871</text>
<text x="755.2" y="192.0" font-size="5.8" stroke="#111" stroke-width="0.12" font-weight="bold" text-anchor="end" fill="#111" textLength="56.6" lengthAdjust="spacingAndGlyphs" xml:space="preserve">t-Value  Limit 2.14479</text>
</svg>
<div class="ln" style="left:11.0px;top:291.9px;transform-origin:0 0;transform:scaleX(0.834)">The dominant effect is Agitation V, followed by</div>
<div class="ln" style="left:11.0px;top:307.7px;transform-origin:0 0;transform:scaleX(0.826)">Agitation D, very significant, and its interaction</div>
<div class="ln" style="left:11.0px;top:322.3px;transform-origin:0 0;transform:scaleX(0.832)">with Oil, very significant.</div>
<div class="ln" style="left:11.0px;top:343.3px;transform-origin:0 0;transform:scaleX(0.826)">The 1st order effect of Oil is forced to respect the</div>
<div class="ln" style="left:11.0px;top:357.9px;transform-origin:0 0;transform:scaleX(0.832)">hierarchy</div>
<div class="b" style="left:228.4px;top:345.5px;width:1px;height:11px;background:#222"></div>
<div class="ln" style="left:93.0px;width:600px;text-align:center;top:291.8px;transform-origin:50% 0;transform:scaleX(0.832)">For a slightly less powerful transformation the</div>
<div class="ln" style="left:92.30000000000001px;width:600px;text-align:center;top:307.0px;transform-origin:50% 0;transform:scaleX(0.826)">model is quite similar to the previous one.</div>
<div class="ln" style="left:93.0px;width:600px;text-align:center;top:327.5px;transform-origin:50% 0;transform:scaleX(0.832)">We find in fewer trenches the Agitation V -</div>
<div class="ln" style="left:93.0px;width:600px;text-align:center;top:342.7px;transform-origin:50% 0;transform:scaleX(0.832)">Agitation D - Starch hierarchy.</div>
<div class="ln" style="left:93.0px;width:600px;text-align:center;top:363.8px;transform-origin:50% 0;transform:scaleX(0.832)">The hierarchy of Interactions is a little different</div>
<div class="ln" style="left:93.0px;width:600px;text-align:center;top:384.0px;transform-origin:50% 0;transform:scaleX(0.832)">The 1st order effects of Oil and Protein are forced</div>
<div class="ln" style="left:93.0px;width:600px;text-align:center;top:399.0px;transform-origin:50% 0;transform:scaleX(0.832)">to respect the hierarchy.</div>
<div class="ln" style="left:175.0px;width:600px;text-align:right;top:291.8px;transform-origin:100% 0;transform:scaleX(0.836)">Two Factors Dominate: Protein &amp; Agitation D.</div>
<div class="ln" style="left:175.0px;width:600px;text-align:right;top:312.5px;transform-origin:100% 0;transform:scaleX(0.835)">The 1st order effects of Agitation V and starch</div>
<div class="ln" style="left:175.0px;width:600px;text-align:right;top:327.7px;transform-origin:100% 0;transform:scaleX(0.832)">are also very significant.</div>
<div class="ln" style="left:175.0px;width:600px;text-align:right;top:347.8px;transform-origin:100% 0;transform:scaleX(0.835)">The 1st order effect of Oil is forced due to AE.</div>
</body></html>
